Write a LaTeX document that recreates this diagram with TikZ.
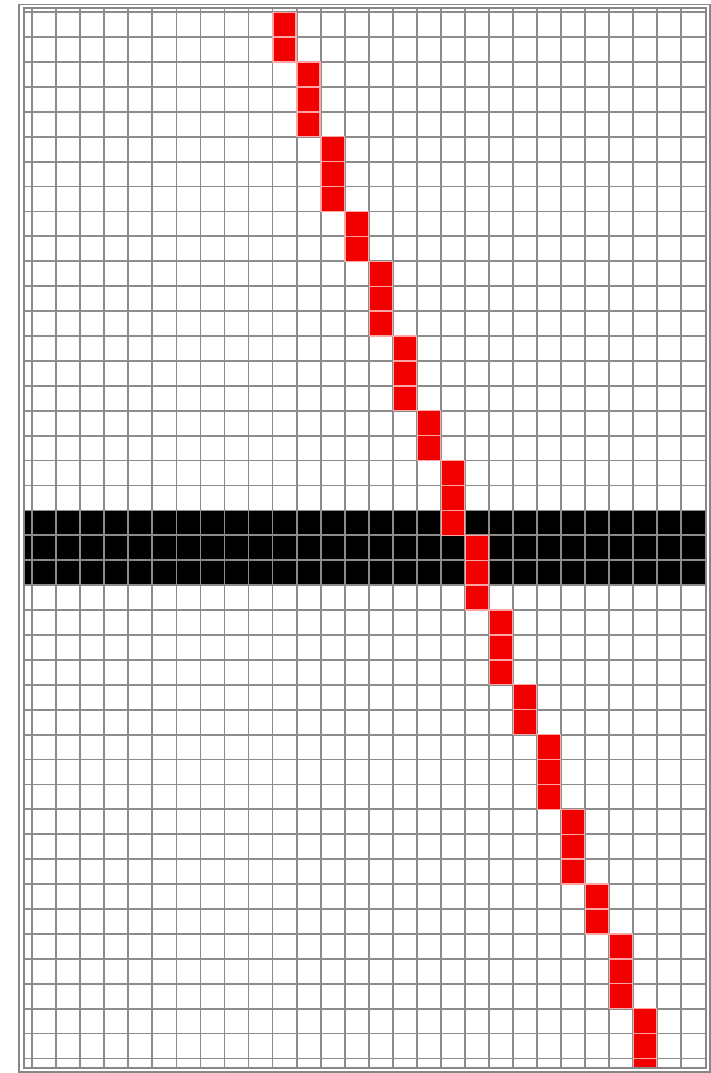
\documentclass[tikz,border=0pt]{standalone}
\usepackage{tikz}

\definecolor{gridgray}{RGB}{140,140,140}
\definecolor{framegray}{RGB}{135,135,135}

\begin{document}
\begin{tikzpicture}[x=24.04pt,y=-24.91pt,
  gridline/.style={draw=gridgray,line width=1.8pt},
  frameline/.style={draw=framegray,line width=1.8pt},
  redcell/.style={fill=red!95!black,draw=red!35!white,line width=1.4pt},
  blackrow/.style={fill=black},
]
  \useasboundingbox (-1.339,-0.4898) rectangle (28.236,42.585);
  \fill[white] (-1.339,-0.4898) rectangle (28.236,42.585);

  \coordinate (nw) at (-0.354,-0.157);
  \coordinate (se) at (28.04,42.397);
  \coordinate (outnw) at (-0.541,-0.309);
  \coordinate (outse) at (28.195,42.533);

  \fill[blackrow] (-0.354,20) rectangle (28.04,23);

  \foreach \k in {0,...,27}
    \draw[gridline] (\k,-0.157) -- (\k,42.397);
  \foreach \i in {0,...,42}
    \draw[gridline] (-0.354,\i) -- (28.04,\i);

  \begin{scope}
    \clip (nw) rectangle (se);
    \foreach \c/\r/\n in {10/0/2,11/2/3,12/5/3,13/8/2,14/10/3,15/13/3,16/16/2,
                          17/18/3,18/21/3,19/24/3,20/27/2,21/29/3,22/32/3,
                          23/35/2,24/37/3,25/40/3}
      \foreach \j in {1,...,\n}
        \filldraw[redcell] (\c+0.02,\r+\j-1) rectangle (\c+0.98,\r+\j);
  \end{scope}

  \draw[frameline] (nw) rectangle (se);
  \draw[frameline] (outnw) rectangle (outse);
\end{tikzpicture}
\end{document}
